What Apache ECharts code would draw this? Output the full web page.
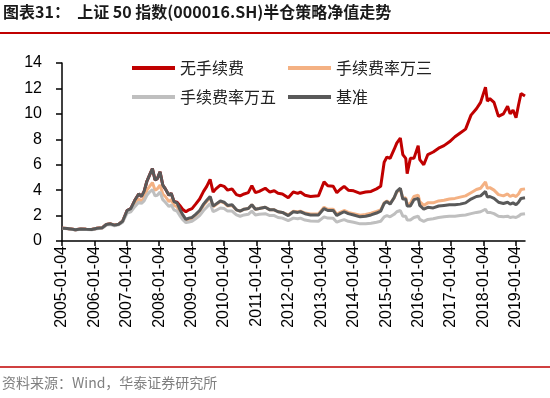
<!DOCTYPE html>
<html lang="zh">

<head>
    <meta charset="UTF-8">
    <title>上证50半仓策略净值走势</title>
    <script src="https://cdn.jsdelivr.net/npm/echarts@6/dist/echarts.min.js"></script>
    <style>
        body { margin: 0; background: #fff; }
        #container { width: 550px; height: 398px; }
    </style>
</head>

<body>
    <div id="container"></div>
    <script type="text/javascript">
        // sample dates (roughly monthly, more points near turns)
        var dates = [
            '2005-01-04', '2005-03-01', '2005-05-01', '2005-06-01', '2005-08-01', '2005-10-01', '2005-12-01',
            '2006-02-01', '2006-04-01', '2006-05-15', '2006-07-01', '2006-08-15', '2006-10-01', '2006-11-15',
            '2007-01-04', '2007-02-15', '2007-04-01', '2007-05-15', '2007-06-15', '2007-07-15', '2007-08-15', '2007-09-15', '2007-10-16', '2007-11-15', '2007-12-10',
            '2008-01-10', '2008-02-10', '2008-03-10', '2008-04-20', '2008-05-15', '2008-06-15', '2008-07-20', '2008-08-20', '2008-09-20', '2008-10-28', '2008-12-01',
            '2009-01-05', '2009-02-15', '2009-04-01', '2009-05-15', '2009-06-20', '2009-07-28', '2009-08-31', '2009-10-01', '2009-11-20',
            '2010-01-01', '2010-02-10', '2010-04-01', '2010-05-20', '2010-07-01', '2010-08-15', '2010-10-01', '2010-11-10', '2010-12-20',
            '2011-02-01', '2011-04-10', '2011-06-01', '2011-07-20', '2011-09-01', '2011-10-20', '2011-12-25',
            '2012-02-20', '2012-04-10', '2012-05-10', '2012-07-01', '2012-09-01', '2012-11-30',
            '2013-02-01', '2013-03-15', '2013-05-15', '2013-06-25', '2013-08-01', '2013-09-15', '2013-11-01', '2013-12-31',
            '2014-03-15', '2014-05-15', '2014-07-15', '2014-09-15', '2014-11-01', '2014-12-10',
            '2015-01-10', '2015-02-15', '2015-04-01', '2015-05-01', '2015-06-10', '2015-07-08', '2015-08-10', '2015-08-26', '2015-10-01', '2015-11-10', '2015-12-28',
            '2016-01-15', '2016-02-29', '2016-04-15', '2016-06-15', '2016-08-15', '2016-10-15', '2016-12-15',
            '2017-02-15', '2017-04-15', '2017-06-15', '2017-08-15', '2017-10-15', '2017-12-01',
            '2018-01-25', '2018-02-15', '2018-03-15', '2018-05-01', '2018-06-20', '2018-08-15', '2018-10-01', '2018-10-30', '2018-12-01',
            '2019-01-04', '2019-02-01', '2019-03-01', '2019-04-15'
        ];

        // 无手续费
        var noFee = [
            1.00, 0.98, 0.92, 0.88, 0.95, 0.92, 0.90,
            1.00, 1.05, 1.30, 1.35, 1.25, 1.32, 1.55,
            2.40, 2.55, 3.20, 3.70, 3.50, 3.90, 4.70, 5.20, 5.70, 4.80, 4.90,
            5.45, 4.40, 4.10, 3.60, 3.75, 3.10, 3.05, 2.80, 2.50, 2.30, 2.45,
            2.55, 2.90, 3.30, 3.90, 4.30, 4.85, 3.85, 4.10, 4.40,
            4.30, 4.00, 4.10, 3.65, 3.55, 3.70, 3.80, 4.35, 3.80,
            3.90, 4.15, 3.85, 3.95, 3.75, 3.70, 3.40,
            3.85, 3.75, 3.85, 3.60, 3.50, 3.55,
            4.65, 4.35, 4.30, 3.80, 4.05, 4.30, 4.00, 3.95,
            3.75, 3.85, 3.90, 4.10, 4.30, 6.20,
            6.60, 6.50, 7.20, 7.70, 8.10, 6.80, 6.50, 5.30, 6.50, 6.50, 7.50,
            6.40, 6.00, 6.80, 7.00, 7.30, 7.50, 7.80,
            8.20, 8.50, 8.80, 9.90, 10.40, 10.90,
            12.10, 11.00, 11.20, 10.90, 9.80, 10.00, 10.60, 10.00, 10.30,
            9.70, 10.70, 11.60, 11.40
        ];

        // 手续费率万三
        var fee3 = [
            1.00, 0.98, 0.92, 0.88, 0.95, 0.92, 0.90,
            1.00, 1.05, 1.30, 1.35, 1.25, 1.32, 1.55,
            2.30, 2.40, 2.90, 3.30, 3.15, 3.40, 4.00, 4.30, 4.60, 4.00, 4.10,
            4.40, 3.70, 3.50, 3.10, 3.25, 2.80, 2.70, 2.30, 1.95, 1.60, 1.70,
            1.75, 2.00, 2.30, 2.80, 3.10, 3.40, 2.70, 2.85, 3.10,
            3.00, 2.75, 2.80, 2.45, 2.35, 2.50, 2.55, 2.85, 2.50,
            2.55, 2.65, 2.45, 2.45, 2.30, 2.25, 2.05,
            2.35, 2.30, 2.35, 2.20, 2.12, 2.12,
            2.65, 2.50, 2.50, 2.10, 2.25, 2.40, 2.25, 2.15,
            2.02, 2.08, 2.18, 2.33, 2.45, 3.00,
            3.15, 2.95, 3.40, 3.85, 4.10, 3.35, 3.40, 2.85, 2.95, 3.50, 3.60,
            3.10, 2.80, 3.00, 3.00, 3.15, 3.20, 3.30,
            3.35, 3.45, 3.55, 3.80, 4.05, 4.15,
            4.65, 4.15, 4.20, 4.00, 3.65, 3.55, 3.70, 3.50, 3.60,
            3.50, 3.70, 4.05, 4.10
        ];

        // 手续费率万五
        var fee5 = [
            1.00, 0.97, 0.91, 0.87, 0.93, 0.90, 0.88,
            0.97, 1.02, 1.25, 1.30, 1.20, 1.27, 1.48,
            2.20, 2.30, 2.70, 3.05, 2.95, 3.15, 3.60, 3.85, 4.05, 3.55, 3.60,
            3.85, 3.25, 3.05, 2.70, 2.85, 2.45, 2.35, 2.00, 1.70, 1.45, 1.50,
            1.55, 1.75, 2.00, 2.40, 2.65, 2.95, 2.30, 2.40, 2.60,
            2.55, 2.35, 2.35, 2.05, 1.95, 2.05, 2.10, 2.35, 2.05,
            2.10, 2.15, 2.00, 2.00, 1.85, 1.80, 1.60,
            1.80, 1.75, 1.80, 1.65, 1.58, 1.55,
            1.90, 1.80, 1.78, 1.48, 1.58, 1.68, 1.55, 1.48,
            1.35, 1.35, 1.40, 1.48, 1.55, 1.90,
            2.00, 1.90, 2.10, 2.30, 2.40, 1.95, 1.95, 1.65, 1.65, 1.85, 1.95,
            1.70, 1.55, 1.70, 1.75, 1.85, 1.90, 1.95,
            1.95, 2.00, 2.05, 2.15, 2.25, 2.30,
            2.50, 2.25, 2.25, 2.15, 1.95, 1.90, 1.95, 1.85, 1.90,
            1.85, 1.95, 2.10, 2.15
        ];

        // 基准
        var bench = [
            1.00, 0.98, 0.92, 0.88, 0.95, 0.92, 0.90,
            1.00, 1.05, 1.30, 1.35, 1.25, 1.32, 1.55,
            2.40, 2.55, 3.20, 3.70, 3.50, 3.90, 4.70, 5.20, 5.70, 4.80, 4.90,
            5.45, 4.40, 4.10, 3.60, 3.75, 3.10, 3.00, 2.50, 2.10, 1.70, 1.80,
            1.85, 2.10, 2.40, 2.90, 3.20, 3.50, 2.75, 2.90, 3.15,
            3.05, 2.80, 2.85, 2.45, 2.35, 2.50, 2.55, 2.85, 2.50,
            2.55, 2.65, 2.45, 2.45, 2.30, 2.25, 2.00,
            2.30, 2.25, 2.30, 2.15, 2.05, 2.05,
            2.55, 2.40, 2.40, 2.00, 2.15, 2.30, 2.15, 2.05,
            1.90, 1.95, 2.05, 2.20, 2.35, 2.95,
            3.10, 2.90, 3.40, 3.90, 4.15, 3.30, 3.30, 2.75, 2.75, 3.25, 3.35,
            2.80, 2.50, 2.65, 2.60, 2.75, 2.80, 2.85,
            2.85, 2.90, 3.00, 3.30, 3.50, 3.55,
            3.90, 3.45, 3.50, 3.35, 3.05, 2.95, 3.05, 2.90, 3.00,
            2.85, 3.05, 3.35, 3.40
        ];

        var yearTicks = [2005, 2006, 2007, 2008, 2009, 2010, 2011, 2012, 2013, 2014, 2015, 2016, 2017, 2018, 2019];

        // date string -> fractional year, so the x axis can be a plain value axis
        function toYear(s) {
            var d = new Date(s + 'T00:00:00Z');
            var y = d.getUTCFullYear();
            var a = Date.UTC(y, 0, 1), b = Date.UTC(y + 1, 0, 1);
            return y + (d.getTime() - a) / (b - a);
        }

        function pairs(vals) {
            return dates.map(function (d, i) { return [toYear(d), vals[i]]; });
        }

        var cjk = '"Noto Sans CJK SC", sans-serif';
        var latin = '"Liberation Sans", Arial, sans-serif';

        var dom = document.getElementById('container');
        var myChart = echarts.init(dom, null, { renderer: 'canvas' });

        function legendAt(name, left, top) {
            return {
                data: [name],
                left: left,
                top: top,
                icon: 'rect',
                itemWidth: 43,
                itemHeight: 4,
                textStyle: { fontFamily: cjk, fontSize: 16, color: '#222' },
                selectedMode: false
            };
        }

        var option = {
            animation: false,
            backgroundColor: '#fff',
            grid: { left: 62, right: 25, top: 63, bottom: 157 },
            legend: [
                legendAt('无手续费', 127, 55),
                legendAt('手续费率万三', 283, 55),
                legendAt('手续费率万五', 127, 84),
                legendAt('基准', 283, 84)
            ],
            xAxis: {
                type: 'value',
                min: 2005,
                max: toYear(dates[dates.length - 1]),
                splitLine: { show: false },
                axisLine: { lineStyle: { color: '#000', width: 1.5 } },
                axisTick: { customValues: yearTicks, length: 5, lineStyle: { color: '#000', width: 1.5 } },
                axisLabel: {
                    customValues: yearTicks,
                    rotate: 90,
                    margin: 5,
                    fontFamily: latin,
                    fontSize: 16,
                    color: '#000',
                    formatter: function (v) { return v + '-01-04'; }
                }
            },
            yAxis: {
                type: 'value',
                min: 0,
                max: 14,
                interval: 2,
                splitLine: { show: false },
                axisLine: { show: true, lineStyle: { color: '#000', width: 1.5 } },
                axisTick: { show: true, length: 6, lineStyle: { color: '#000', width: 1.5 } },
                axisLabel: { margin: 20, fontFamily: latin, fontSize: 16, color: '#000' }
            },
            series: [
                { name: '无手续费', type: 'line', data: pairs(noFee), showSymbol: false, lineStyle: { color: '#c00000', width: 3 }, itemStyle: { color: '#c00000' } },
                { name: '手续费率万三', type: 'line', data: pairs(fee3), showSymbol: false, lineStyle: { color: '#f4b183', width: 3 }, itemStyle: { color: '#f4b183' } },
                { name: '手续费率万五', type: 'line', data: pairs(fee5), showSymbol: false, lineStyle: { color: '#bfbfbf', width: 3 }, itemStyle: { color: '#bfbfbf' } },
                { name: '基准', type: 'line', data: pairs(bench), showSymbol: false, lineStyle: { color: '#595959', width: 3 }, itemStyle: { color: '#595959' } }
            ],
            graphic: [
                {
                    type: 'text', left: 3, top: 4,
                    style: { text: '图表31：  上证 50 指数(000016.SH)半仓策略净值走势', font: 'bold 16px ' + cjk, fill: '#1a1a1a' }
                },
                { type: 'line', shape: { x1: 0, y1: 33, x2: 550, y2: 33 }, style: { stroke: '#c00000', lineWidth: 2 } },
                { type: 'line', shape: { x1: 0, y1: 367, x2: 550, y2: 367 }, style: { stroke: '#c00000', lineWidth: 1.5 } },
                {
                    type: 'text', left: 2, top: 376,
                    style: { text: '资料来源：Wind，华泰证券研究所', font: '14px ' + cjk, fill: '#7f7f7f' }
                }
            ]
        };

        myChart.setOption(option);
        window.addEventListener('resize', myChart.resize);
    </script>
</body>

</html>
